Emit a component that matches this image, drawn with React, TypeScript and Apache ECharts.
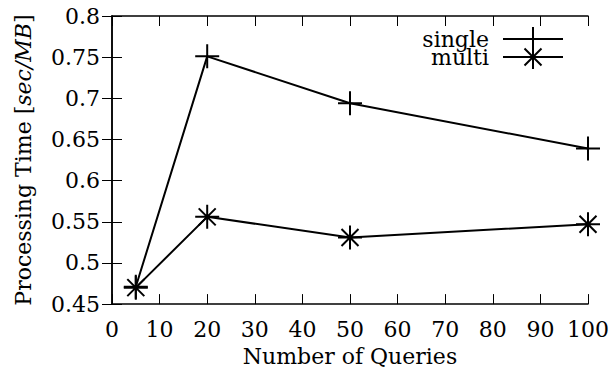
import React, { useEffect, useRef } from "react";
import * as echarts from "echarts";

const queries = [5, 20, 50, 100];
const singleTimes = [0.471, 0.751, 0.694, 0.639];
const multiTimes = [0.47, 0.556, 0.531, 0.547];
const seriesNames = ["single", "multi"];

const PLUS = "path://M12,0L12,24M0,12L24,12";
const STAR = "path://M12,0L12,24M0,12L24,12M3.5,3.5L20.5,20.5M20.5,3.5L3.5,20.5";

const FONT = "DejaVu Serif";
const FS = 22;

export default function App() {
  const ref = useRef<HTMLDivElement>(null);
  useEffect(() => {
    if (!ref.current) return;
    const chart = echarts.init(ref.current, undefined, { renderer: "svg" });
    const axisCommon = {
      axisLine: { show: true, lineStyle: { color: "#000", width: 1.5 } },
      axisTick: { show: true, inside: true, length: 10, lineStyle: { color: "#000", width: 1 } },
      splitLine: { show: false },
    };
    const mk = (name: string, ys: number[], sym: string) => ({
      name,
      type: "line",
      data: queries.map((q, i) => [q, ys[i]]),
      symbol: sym,
      symbolSize: 24,
      showAllSymbol: true,
      lineStyle: { color: "#000", width: 2 },
      itemStyle: { color: "rgba(0,0,0,0)", borderColor: "#000", borderWidth: 2 },
      emphasis: { disabled: true },
    });
    chart.setOption({
      animation: false,
      textStyle: { fontFamily: FONT },
      grid: { left: 112, right: 25, top: 16, bottom: 66 },
      legend: {
        orient: "vertical",
        right: 49,
        top: 26,
        padding: 0,
        align: "right",
        itemWidth: 60,
        itemHeight: 30,
        itemGap: -8,
        textStyle: { fontFamily: FONT, fontSize: FS, color: "#000", lineHeight: 18, padding: [0, 9, 0, 0] },
        data: seriesNames,
      },
      xAxis: [
        {
          type: "value",
          min: 0,
          max: 100,
          interval: 10,
          position: "bottom",
          ...axisCommon,
          axisLabel: { color: "#000", fontSize: FS, fontFamily: FONT, margin: 14 },
          name: "Number of Queries",
          nameLocation: "middle",
          nameGap: 38,
          nameTextStyle: { color: "#000", fontSize: FS, fontFamily: FONT },
        },
        {
          type: "value",
          min: 0,
          max: 100,
          interval: 10,
          position: "top",
          ...axisCommon,
          axisLabel: { show: false },
        },
      ],
      yAxis: [
        {
          type: "value",
          min: 0.45,
          max: 0.8,
          interval: 0.05,
          position: "left",
          ...axisCommon,
          axisLabel: { color: "#000", fontSize: FS, fontFamily: FONT, margin: 12 },
          name: "{a|Processing Time [}{i|sec/MB}{a|]}",
          nameLocation: "middle",
          nameGap: 78,
          nameTextStyle: {
            color: "#000",
            rich: {
              a: { fontSize: FS, fontFamily: FONT, color: "#000" },
              i: { fontSize: FS, fontFamily: FONT, fontStyle: "italic", color: "#000" },
            },
          },
        },
        {
          type: "value",
          min: 0.45,
          max: 0.8,
          interval: 0.05,
          position: "right",
          ...axisCommon,
          axisLabel: { show: false },
        },
      ],
      series: [mk(seriesNames[0], singleTimes, PLUS), mk(seriesNames[1], multiTimes, STAR)],
    });
    return () => chart.dispose();
  }, []);
  return (
    <div
      ref={ref}
      style={{ position: "fixed", left: 0, top: 0, width: 613, height: 372, background: "#fff" }}
    />
  );
}
